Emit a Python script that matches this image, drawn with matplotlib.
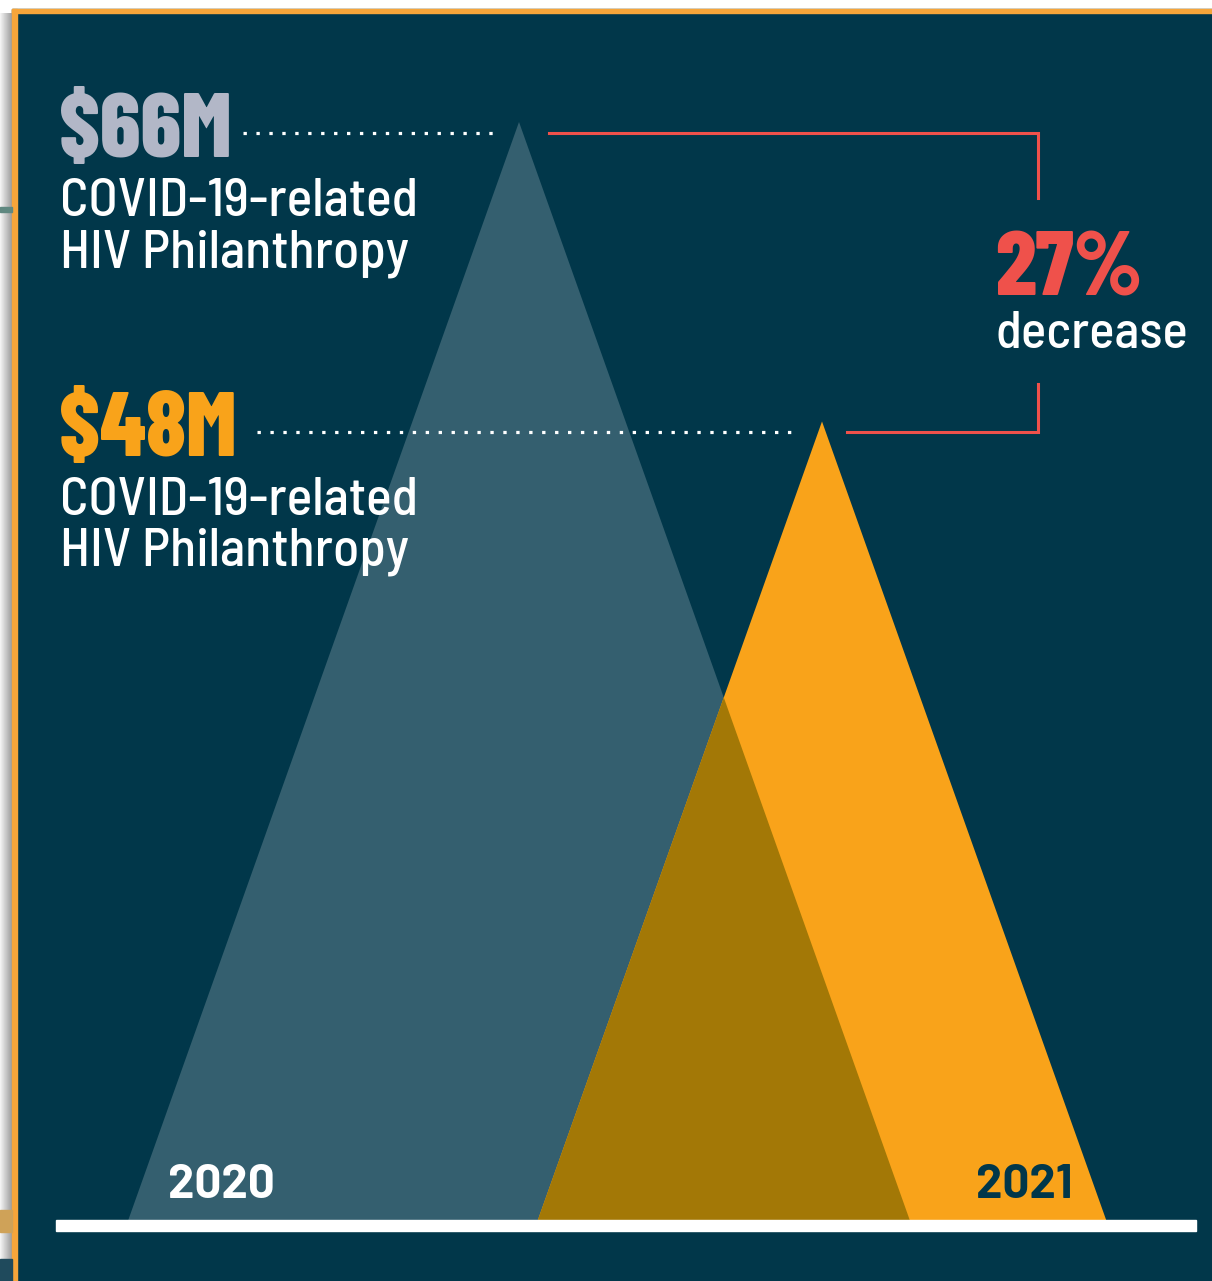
import numpy as np
import matplotlib
matplotlib.use("Agg")
import matplotlib.pyplot as plt
from matplotlib.patches import Polygon, Rectangle
from matplotlib import font_manager

# ---------------- data ----------------
years = ["2020", "2021"]
values = [66, 48]                      # $M COVID-19-related HIV philanthropy
value_labels = ["$66M", "$48M"]
subtitle = "COVID-19-related\nHIV Philanthropy"
change_label = "27%"
change_word = "decrease"

# ---------------- style ----------------
BG = "#01374A"
GRAY = "#345F6F"
ORANGE = "#F9A31A"
OVERLAP = "#A37806"
RED = "#EF514B"
LABEL_GRAY = "#B2B7C7"
BORDER = "#F6A53A"

def pick(fams):
    out = []
    for f in fams:
        try:
            font_manager.findfont(font_manager.FontProperties(family=f), fallback_to_default=False)
            out.append(f)
        except Exception:
            pass
    return out + ["DejaVu Sans"]

HEAD = pick(["Barlow Condensed", "Roboto Condensed", "Liberation Sans Narrow", "Liberation Sans"])
BODY = pick(["Barlow Semi Condensed", "Barlow", "Roboto Condensed", "Liberation Sans"])
YEARF = pick(["Barlow", "Barlow Semi Condensed", "Liberation Sans"])

W, H = 1212, 1281
fig = plt.figure(figsize=(W / 100, H / 100), dpi=100)
fig.patch.set_facecolor("white")

# pixel-coordinate axes for frame decorations
deco = fig.add_axes([0, 0, 1, 1])
deco.set_xlim(0, W)
deco.set_ylim(H, 0)
deco.axis("off")
deco.add_patch(Rectangle((12, 9), W, H, color=BG, zorder=0))
deco.add_patch(Rectangle((12, 9), W, 4, color=BORDER, zorder=1))
deco.add_patch(Rectangle((12, 9), 4.5, H, color=BORDER, zorder=1))
grad = np.linspace(0.95, 0.62, 12)[None, :]
deco.imshow(np.repeat(grad, 10, axis=0), cmap="gray", vmin=0, vmax=1,
            extent=(0, 12, H, 13), aspect="auto", zorder=0.5)
deco.add_patch(Rectangle((0, 207), 12, 4.5, color="#5F8880", zorder=1))
deco.add_patch(Rectangle((0, 1210), 12, 22, color="#CFA258", zorder=1))
deco.add_patch(Rectangle((0, 1259), 12, 30, color="#1F4A5C", zorder=1))

# main axes in value units ($M): base at pixel 1220, 66 at pixel 122
PX_PER_M = (1220 - 122) / 66
ax = fig.add_axes([0, 0, 1, 1])
ax.set_xlim(0, W)
ax.set_ylim(-(H - 1220) / PX_PER_M, 1220 / PX_PER_M)
ax.axis("off")
ax.patch.set_alpha(0)
PT = deco.transData  # pixel transform for text

centers = [519, 822]
half_w_per_m = 5.92
tri_colors = [GRAY, ORANGE]
tris = []
for c, v, col in zip(centers, values, tri_colors):
    hw = v * half_w_per_m
    p = Polygon([(c - hw, 0), (c, v), (c + hw, 0)], closed=True,
                facecolor=col, edgecolor="none", zorder=2)
    ax.add_patch(p)
    tris.append((c, v, hw))
# overlap region: second triangle clipped by first
c2, v2, hw2 = tris[1]
ov = Polygon([(c2 - hw2, 0), (c2, v2), (c2 + hw2, 0)], closed=True,
             facecolor=OVERLAP, edgecolor="none", zorder=3)
ax.add_patch(ov)
c1, v1, hw1 = tris[0]
clip = Polygon([(c1 - hw1, 0), (c1, v1), (c1 + hw1, 0)], closed=True,
               transform=ax.transData)
ov.set_clip_path(clip)

# baseline bar
ax.add_patch(Rectangle((56, -11 / PX_PER_M), 1196 - 56, 11 / PX_PER_M,
                       color="white", zorder=4))

# dotted leader lines (sit ~10 px below the apex level)
drop = 10.5 / PX_PER_M
dot_starts = [243, 257]
for xs, c, v in zip(dot_starts, centers, values):
    ax.plot([xs, c - 22], [v - drop, v - drop], color="white", lw=2.3,
            dashes=(1.05, 3.0), dash_capstyle="butt", zorder=5)

# red bracket
bx = 1037.5
gap_top = (1220 - 198) / PX_PER_M
gap_bot = (1220 - 384) / PX_PER_M
ax.plot([c1 + 30, bx, bx], [v1 - drop, v1 - drop, gap_top], color=RED, lw=2.2,
        solid_joinstyle="miter", zorder=5)
ax.plot([c2 + 25, bx, bx], [v2 - drop, v2 - drop, gap_bot], color=RED, lw=2.2,
        solid_joinstyle="miter", zorder=5)

# texts (pixel coords)
label_colors = [LABEL_GRAY, ORANGE]
for i, (lab, col) in enumerate(zip(value_labels, label_colors)):
    off = 0 if i == 0 else 299
    ax.text(59, 157 + off, lab, color=col, fontsize=65, fontweight="heavy",
            family=HEAD, va="baseline", ha="left", zorder=6, transform=PT)
    lines = subtitle.split("\n")
    ax.text(60, 216 + off, lines[0], color="white", fontsize=38.6, fontweight="medium",
            family=BODY, va="baseline", ha="left", zorder=6, transform=PT)
    ax.text(60, 267 + off, lines[1], color="white", fontsize=38.6, fontweight="medium",
            family=BODY, va="baseline", ha="left", zorder=6, transform=PT)

ax.text(995, 295, change_label, color=RED, fontsize=65, fontweight="heavy",
        family=HEAD, va="baseline", ha="left", zorder=6, transform=PT)
ax.text(996, 348, change_word, color="white", fontsize=38, fontweight="medium",
        family=BODY, va="baseline", ha="left", zorder=6, transform=PT)

ax.text(168, 1198, years[0], color="white", fontsize=34, fontweight="bold",
        family=YEARF, va="baseline", ha="left", zorder=6, transform=PT)
ax.text(976, 1198, years[1], color=BG, fontsize=34, fontweight="bold",
        family=YEARF, va="baseline", ha="left", zorder=6, transform=PT)

fig.savefig("out.png", dpi=100, facecolor=fig.get_facecolor())
